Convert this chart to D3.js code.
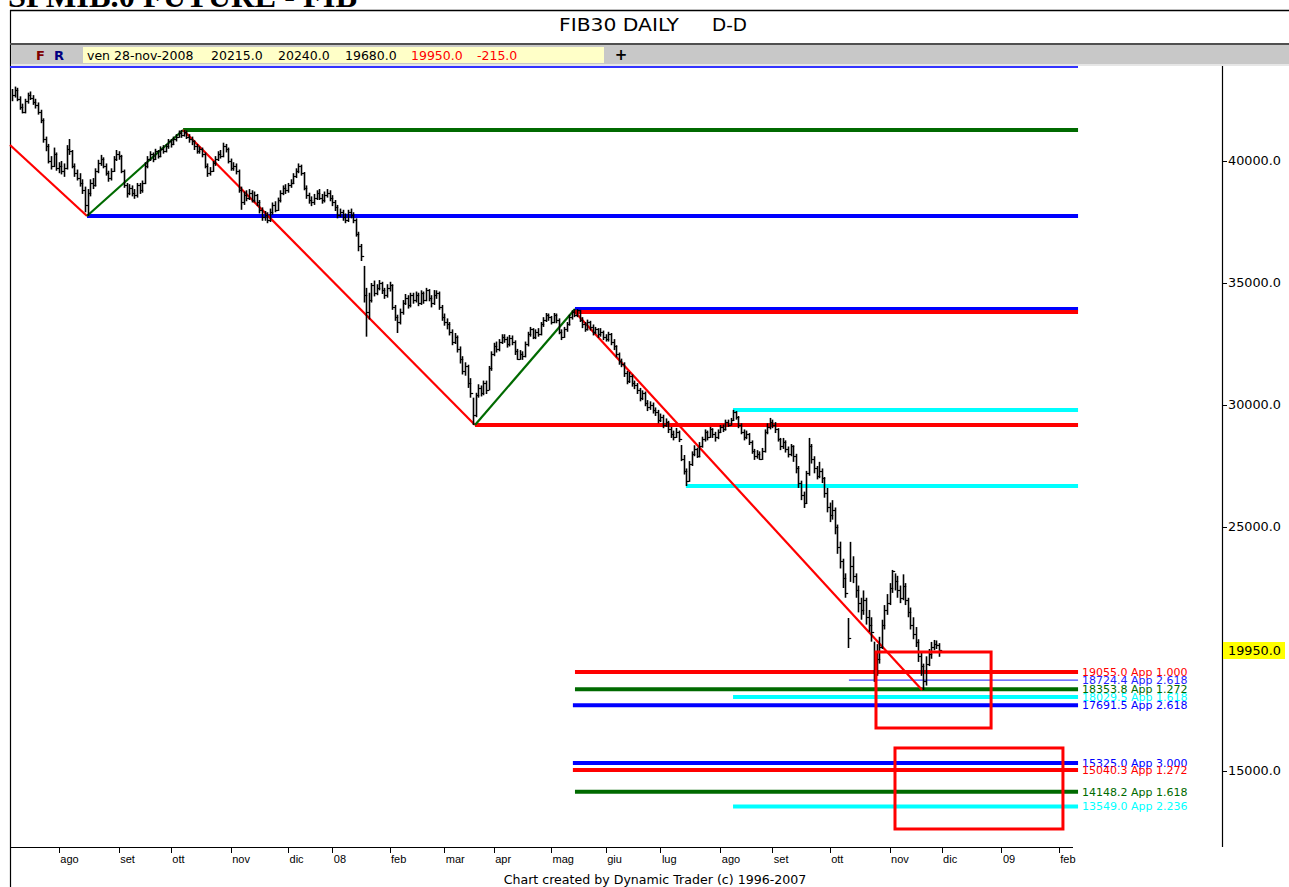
<!DOCTYPE html>
<html><head><meta charset="utf-8">
<script src="https://cdn.jsdelivr.net/npm/d3@7"></script>
<style>body{margin:0;background:#fff;overflow:hidden}svg{display:block}</style>
</head><body><svg id="c" width="1289" height="887"></svg>
<script>
// ---- DATA ----
const closes = [42700,42900,42550,42200,42000,42450,42700,42600,42400,42300,
42000,41700,40900,40600,40000,39800,40300,39700,39800,39600,
39700,40500,40400,39800,39500,39300,39100,38800,38200,38700,
39100,39000,39600,39900,40100,39800,39500,39300,39600,40100,
40300,40200,39600,39000,38700,38900,38700,38600,39000,38800,
39100,39800,40100,40300,40100,40400,40200,40500,40400,40600,
40800,40700,40900,41000,41150,41050,41200,41000,40900,40800,
40600,40400,40500,40300,39800,39500,39600,39900,40100,40300,
40200,40600,40500,40000,39700,39800,39600,38800,38300,38600,
38500,38700,38400,38600,38300,38000,37700,37800,37600,37900,
38200,38000,38400,38700,38900,38800,39000,39100,39400,39600,
39800,39500,38900,38600,38400,38300,38500,38700,38500,38400,
38600,38700,38500,38300,38100,37800,37900,37700,37600,37900,
37800,37600,37000,36500,36100,34500,33800,34300,34900,34600,
34800,35000,34700,34500,34800,34900,34000,33600,33400,33800,
34200,34400,34100,34500,34300,34500,34200,34600,34300,34700,
34400,34200,34500,34600,34000,33600,33400,33300,33000,32600,
32800,32300,31900,31400,31600,30900,30500,29600,30400,30700,
30500,30900,30600,31500,32100,32400,32300,32600,32800,32700,
32500,32750,32600,32200,31900,32100,32000,32500,32900,33100,
32800,33000,32900,33300,33500,33700,33600,33400,33700,33500,
33000,32800,33100,33300,33600,33800,33700,33900,33500,33300,
33100,33400,33200,33000,33100,32900,33000,32800,32700,32900,
32600,32400,32100,31800,31700,31300,31000,31200,30900,30800,
30600,30300,30500,30100,29900,30000,29800,29700,29400,29500,
29200,29300,29000,28800,28700,28900,28600,27800,27300,26900,
27600,28000,28200,27900,28300,28600,28900,28700,29000,28800,
28700,28900,29100,29000,29300,29200,29400,29700,29500,29200,
28900,28700,28800,28500,28100,27900,28000,27800,28100,28900,
29100,29300,29200,29000,28600,28300,28500,28200,28000,28300,
27900,27400,26800,26300,26000,27200,28300,27800,27400,27100,
27300,27000,26400,25800,25500,25700,25000,24200,23600,22900,
22300,20450,23400,23000,22400,21900,21600,22000,21300,21000,
20700,19300,19600,20100,21000,21600,21900,22500,23200,22800,
22400,22100,22600,22000,21500,21000,20600,20300,19700,19300,
18700,19400,19800,20100,20200,20165,19950];

const highs = [42950,43050,43000,42650,42350,42550,42800,42850,42700,42550,
42400,42100,41750,41000,40700,40200,40550,40350,39950,40000,
39900,40650,40900,40450,39900,39650,39500,39250,38950,38850,
39250,39300,39700,40050,40250,40150,39900,39600,39700,40200,
40450,40400,40250,39650,39100,39050,39000,38850,39100,39100,
39200,39950,40200,40400,40350,40500,40450,40600,40650,40700,
40900,40900,41000,41100,41250,41270,41270,41250,41100,41000,
40850,40700,40600,40550,40350,39900,39750,40000,40200,40400,
40450,40750,40700,40550,40100,39950,39900,39650,38950,38750,
38800,38850,38800,38750,38650,38400,38100,37950,37900,38050,
38300,38350,38500,38800,39000,39050,39100,39250,39500,39700,
39900,39850,39550,39000,38700,38550,38650,38800,38850,38650,
38750,38850,38800,38600,38400,38200,38050,38000,37850,38000,
38050,37900,37650,37100,36600,35700,34800,34600,35000,35100,
34950,35120,35050,34800,34950,35050,34950,34100,33700,33950,
34300,34550,34500,34600,34600,34650,34600,34700,34650,34800,
34750,34500,34710,34700,34650,34100,33750,33550,33400,33100,
32950,32850,32400,32000,31750,31650,31100,30300,30500,30850,
30800,31000,31000,31600,32200,32550,32600,32700,32900,32900,
32800,32870,32850,32650,32300,32250,32200,32600,33000,33200,
33150,33100,33150,33400,33600,33770,33750,33650,33770,33750,
33550,33100,33200,33400,33700,33880,33930,33930,33900,33600,
33400,33500,33450,33300,33200,33150,33150,33050,32900,33000,
32950,32700,32450,32150,31900,31750,31400,31350,31250,31000,
30900,30700,30600,30550,30200,30150,30100,29900,29800,29650,
29600,29450,29350,29100,28950,29060,28950,28360,27950,27400,
27700,28100,28350,28250,28480,28700,29000,28950,29100,29050,
28900,29000,29180,29200,29400,29400,29470,29800,29750,29550,
29250,29000,28950,28850,28550,28200,28150,28100,28240,29000,
29250,29470,29400,29300,29050,28650,28650,28550,28300,28400,
28350,28000,27500,26900,26450,27300,28650,28400,27900,27500,
27670,27400,27050,26600,26000,26100,25800,25100,24400,23700,
23100,21270,24390,23800,23100,22600,22100,22400,22100,21600,
21300,20300,20200,20500,21200,21800,22250,22700,23240,23100,
23000,22600,23060,22700,22100,21700,21300,20900,20400,19900,
19400,19700,20000,20290,20370,20350,20240];

const lows = [42450,42600,42450,42100,41950,41950,42350,42500,42300,42150,
41900,41550,40750,40400,39900,39650,39750,39600,39500,39450,
39350,39650,40250,39700,39350,39200,38950,38650,37900,37750,
38550,38850,38950,39500,39800,39700,39400,39150,39200,39550,
40000,40050,39500,38900,38500,38600,38550,38450,38500,38650,
38700,39050,39700,40000,39950,40050,40100,40150,40300,40350,
40500,40550,40650,40800,40950,40950,41000,40900,40750,40650,
40450,40300,40300,40150,39700,39350,39400,39550,39800,40000,
40100,40150,40350,39900,39600,39600,39450,38700,38000,38200,
38350,38400,38300,38300,38150,37850,37550,37550,37450,37500,
37800,37900,37950,38300,38600,38650,38700,38900,39050,39300,
39500,39400,38800,38450,38250,38150,38200,38400,38400,38250,
38300,38500,38350,38150,37950,37650,37700,37550,37450,37500,
37650,37450,36900,36300,35900,34200,32800,33500,34200,34450,
34500,34700,34550,34350,34400,34650,33900,33450,32950,33300,
33700,34100,33950,34000,34150,34200,34050,34100,34150,34250,
34250,34000,34100,34350,33900,33450,33250,33100,32850,32450,
32500,32150,31700,31250,31200,30700,30300,29180,29500,30300,
30350,30400,30450,30600,31400,32000,32150,32200,32500,32550,
32350,32400,32450,32050,31850,31850,31850,31950,32400,32800,
32700,32700,32800,32850,33200,33400,33450,33300,33350,33350,
32900,32660,32750,33000,33250,33500,33600,33600,33400,33150,
33000,33050,33050,32850,32900,32750,32800,32660,32600,32600,
32450,32250,31950,31650,31550,31150,30850,30900,30750,30650,
30450,30150,30200,29950,29750,29800,29650,29550,29250,29300,
29050,29100,28850,28650,28550,28650,28480,27700,27150,26680,
26850,27500,27900,27830,27850,28250,28500,28550,28650,28650,
28500,28600,28850,28890,28950,29100,29150,29350,29400,29050,
28800,28550,28600,28360,28000,27750,27800,27750,27750,28050,
28800,29000,29050,28850,28500,28150,28200,28050,27850,27900,
27670,27200,26600,26100,25780,25950,27100,27600,27200,26950,
27000,26800,26200,25600,25200,25300,24700,23900,23300,22500,
22100,20040,22750,22700,22100,21500,21200,21400,21000,20700,
20300,18650,18900,19400,20000,20800,21400,21800,22300,22400,
22100,21880,22000,21800,21300,20800,20400,20080,19470,18900,
18320,18500,19300,19600,19950,20000,19680];

const monthLabels = ["ago","set","ott","nov","dic","08","feb","mar","apr","mag","giu","lug","ago","set","ott","nov","dic","09","feb"];
const monthStartIndex = [18,41,61,84,106,123,145,166,185,207,228,249,272,292,314,337,357,380,402];

const priceTicks = [40000,35000,30000,25000,15000];
const lastPrice = 19950;

const headerDate = "ven 28-nov-2008";
const headerOpen = "20215.0", headerHigh = "20240.0", headerLow = "19680.0", headerClose = "19950.0", headerChange = "-215.0";

// swing lines: start index, start value, end index, end value
const swingFromIdx = [-0.77, 28.8, 65.7, 177.8, 216.2];
const swingFromVal = [40656, 37746, 41270, 29180, 33811];
const swingToIdx   = [28.8, 65.7, 177.8, 216.2, 349.5];
const swingToVal   = [37746, 41270, 29180, 33934, 18322];
const swingColor   = ["red","green","red","green","red"];

// horizontal fib levels
const levelValues = [41270, 37746, 33934, 33811, 29795, 29180, 26680, 19055, 18029.5, 18353.8, 18724.4, 17691.5, 15325, 15040.3, 14148.2, 13549];
const levelStart  = [65.7, 28.8, 216.2, 216.2, 276.9, 177.8, 258.8, 216.2, 276.9, 216.2, 321.4, 215.4, 215.4, 215.4, 216.2, 276.9];
const levelColor  = ["green","blue","blue","red","cyan","red","cyan","red","cyan","green","blue","blue","blue","red","green","cyan"];
const levelThin   = [false,false,false,false,false,false,false,false,false,false,true,false,false,false,false,false];
const levelLabel  = [null,null,null,null,null,null,null,"19055.0 App 1.000","18029.5 App 1.618","18353.8 App 1.272","18724.4 App 2.618","17691.5 App 2.618","15325.0 App 3.000","15040.3 App 1.272","14148.2 App 1.618","13549.0 App 2.236"];
const levelEndIdx = 409.4;

// target zones (index range, value range)
const zoneIdx0 = [331.8, 339.1], zoneIdx1 = [376.0, 403.6];
const zoneVal0 = [19877, 15943], zoneVal1 = [16762, 12623];

// ---- DRAW ----
const colors = {red:"#ff0000", green:"#006a00", blue:"#0000ff", cyan:"#00ffff"};
const svg = d3.select("#c");
const x = d3.scaleLinear().domain([0, 356]).range([12, 939]);
const y = d3.scaleLinear().domain([11885, 43852]).range([847, 67]);
const FONT = "'DejaVu Sans', Verdana, sans-serif";

// cut-off top title
svg.append("text").attr("x", 8).attr("y", 7)
  .attr("font-family", "'Liberation Serif', 'Times New Roman', serif").attr("font-weight", "bold")
  .attr("font-size", 32).attr("textLength", 349).attr("lengthAdjust", "spacingAndGlyphs")
  .text("SPMIB.0 FUTURE - FIB");

// frame
svg.append("line").attr("x1", 10).attr("x2", 1289).attr("y1", 10.5).attr("y2", 10.5).attr("stroke", "#000").attr("stroke-width", 1.5);
svg.append("line").attr("x1", 10.5).attr("x2", 10.5).attr("y1", 10).attr("y2", 887).attr("stroke", "#000").attr("stroke-width", 1.2);

// chart title
svg.append("text").attr("x", 559).attr("y", 31).attr("font-family", FONT).attr("font-size", 17)
  .attr("textLength", 120).attr("lengthAdjust", "spacingAndGlyphs").text("FIB30 DAILY");
svg.append("text").attr("x", 712).attr("y", 31).attr("font-family", FONT).attr("font-size", 17)
  .attr("textLength", 35).attr("lengthAdjust", "spacingAndGlyphs").text("D-D");

// header bar
svg.append("rect").attr("x", 10).attr("y", 43).attr("width", 1279).attr("height", 2).attr("fill", "#505050");
svg.append("rect").attr("x", 11).attr("y", 45).attr("width", 1278).attr("height", 19).attr("fill", "#c8c8c8");
svg.append("rect").attr("x", 11).attr("y", 64).attr("width", 1278).attr("height", 2).attr("fill", "#e6e6e6");
svg.append("rect").attr("x", 83).attr("y", 47).attr("width", 521).attr("height", 16).attr("fill", "#ffffc8");
svg.append("text").attr("x", 36).attr("y", 60).attr("font-family", FONT).attr("font-weight", "bold").attr("font-size", 13).attr("fill", "#800000").text("F");
svg.append("text").attr("x", 54).attr("y", 60).attr("font-family", FONT).attr("font-weight", "bold").attr("font-size", 13).attr("fill", "#000080").text("R");
const hdr = [[87, headerDate, "#000"], [211, headerOpen, "#000"], [278, headerHigh, "#000"], [345, headerLow, "#000"], [411, headerClose, "#ff0000"], [477, headerChange, "#ff0000"]];
svg.append("g").selectAll("text").data(hdr).join("text")
  .attr("x", d => d[0]).attr("y", 59.5).attr("font-family", FONT).attr("font-size", 12.5).attr("fill", d => d[2]).text(d => d[1]);
svg.append("text").attr("x", 621).attr("y", 60).attr("text-anchor", "middle").attr("font-family", FONT).attr("font-weight", "bold").attr("font-size", 15).text("+");

// top blue line of plot
svg.append("line").attr("x1", 10).attr("x2", 1078).attr("y1", 67).attr("y2", 67).attr("stroke", "#3333ff").attr("stroke-width", 2);

// axes lines
svg.append("line").attr("x1", 1222.5).attr("x2", 1222.5).attr("y1", 66).attr("y2", 847).attr("stroke", "#000").attr("stroke-width", 1.2);
svg.append("line").attr("x1", 10).attr("x2", 1073).attr("y1", 847.5).attr("y2", 847.5).attr("stroke", "#000").attr("stroke-width", 1.2);

// right price axis
const yAxisG = svg.append("g");
yAxisG.selectAll("line").data(priceTicks).join("line")
  .attr("x1", 1222).attr("x2", 1227).attr("y1", d => Math.round(y(d)) + 0.5).attr("y2", d => Math.round(y(d)) + 0.5).attr("stroke", "#000");
yAxisG.selectAll("text").data(priceTicks).join("text")
  .attr("x", 1228).attr("y", d => y(d) + 4.5).attr("font-family", FONT).attr("font-size", 12.8)
  .text(d => d3.format(".1f")(d));

// last price box
svg.append("rect").attr("x", 1223).attr("y", Math.round(y(lastPrice)) - 8).attr("width", 62).attr("height", 17).attr("fill", "#ffff00");
svg.append("text").attr("x", 1228).attr("y", y(lastPrice) + 5).attr("font-family", FONT).attr("font-size", 12.8).text(d3.format(".1f")(lastPrice));

// month axis
const mG = svg.append("g");
mG.selectAll("line").data(monthStartIndex).join("line")
  .attr("x1", d => Math.round(x(d)) + 0.5).attr("x2", d => Math.round(x(d)) + 0.5).attr("y1", 847).attr("y2", 853).attr("stroke", "#000");
mG.selectAll("text").data(monthLabels).join("text")
  .attr("x", (d, i) => x(monthStartIndex[i]) + 1.5).attr("y", 863)
  .attr("font-family", "'Liberation Sans', Arial, sans-serif").attr("font-size", 11).text(d => d);

svg.append("text").attr("x", 655).attr("y", 884).attr("text-anchor", "middle").attr("font-family", FONT).attr("font-size", 12.6)
  .text("Chart created by Dynamic Trader  (c) 1996-2007");

// horizontal levels
const lvG = svg.append("g");
levelValues.forEach((v, i) => {
  lvG.append("line").attr("x1", x(levelStart[i])).attr("x2", x(levelEndIdx))
    .attr("y1", y(v)).attr("y2", y(v))
    .attr("stroke", levelThin[i] ? "#4444ff" : colors[levelColor[i]])
    .attr("stroke-width", levelThin[i] ? 1.2 : 4);
});

// swing lines
const swG = svg.append("g");
swingFromIdx.forEach((s, i) => {
  swG.append("line").attr("x1", x(s)).attr("y1", y(swingFromVal[i])).attr("x2", x(swingToIdx[i])).attr("y2", y(swingToVal[i]))
    .attr("stroke", colors[swingColor[i]]).attr("stroke-width", 2.2);
});

// price bars
const bG = svg.append("g");
bG.selectAll("line.hl").data(closes).join("line").attr("class", "hl")
  .attr("x1", (d, i) => Math.round(x(i)) + 0.5).attr("x2", (d, i) => Math.round(x(i)) + 0.5)
  .attr("y1", (d, i) => y(highs[i])).attr("y2", (d, i) => y(lows[i]))
  .attr("stroke", "#000").attr("stroke-width", 1.6);
bG.selectAll("line.cl").data(closes).join("line").attr("class", "cl")
  .attr("x1", (d, i) => Math.round(x(i)) + 0.5).attr("x2", (d, i) => Math.round(x(i)) + 3.2)
  .attr("y1", d => Math.round(y(d)) + 0.5).attr("y2", d => Math.round(y(d)) + 0.5)
  .attr("stroke", "#000").attr("stroke-width", 1.2);

// target zones
zoneIdx0.forEach((z, i) => {
  svg.append("rect").attr("x", x(z)).attr("y", y(zoneVal0[i]))
    .attr("width", x(zoneIdx1[i]) - x(z)).attr("height", y(zoneVal1[i]) - y(zoneVal0[i]))
    .attr("fill", "none").attr("stroke", "#ff0000").attr("stroke-width", 3);
});

// level labels
const lbG = svg.append("g");
levelValues.forEach((v, i) => {
  if (!levelLabel[i]) return;
  lbG.append("text").attr("x", 1082).attr("y", y(v) + 4).attr("font-family", FONT).attr("font-size", 11)
    .attr("fill", levelThin[i] ? "#2222ff" : colors[levelColor[i]]).text(levelLabel[i]);
});
</script></body></html>
